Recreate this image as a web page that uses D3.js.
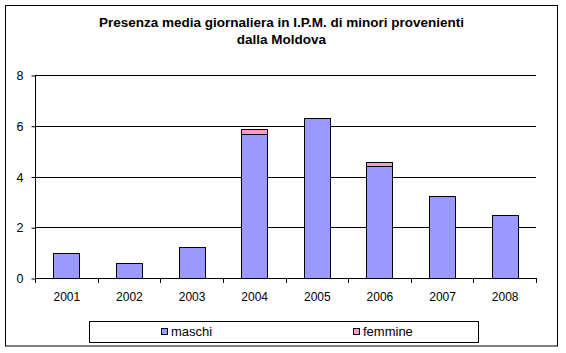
<!DOCTYPE html>
<html><head><meta charset="utf-8">
<script src="https://cdn.jsdelivr.net/npm/d3@7/dist/d3.min.js"></script>
<style>body{margin:0;background:#fff}svg{display:block}text{font-family:"Liberation Sans",Arial,sans-serif}</style>
</head><body>
<script>
const years = ["2001","2002","2003","2004","2005","2006","2007","2008"];
const maschi = [0.97, 0.58, 1.21, 5.66, 6.29, 4.41, 3.23, 2.48];
const femmine = [0, 0, 0, 0.2, 0, 0.15, 0, 0];
const yTicks = [0, 2, 4, 6, 8];
const seriesNames = ["maschi", "femmine"];
const colors = ["#9999FF", "#FF99CC"];
const titleLines = ["Presenza media giornaliera in I.P.M. di minori provenienti", "dalla Moldova"];

const W = 566, H = 353;
const svg = d3.select("body").append("svg").attr("width", W).attr("height", H);
svg.append("rect").attr("x", 5.5).attr("y", 5.5).attr("width", 552).attr("height", 340.5)
  .attr("fill", "#fff").attr("stroke", "#000").attr("stroke-width", 1);

const t = svg.append("text").attr("text-anchor", "middle").attr("font-weight", "bold").attr("font-size", 13.5);
titleLines.forEach((l, i) => t.append("tspan").attr("x", 281.5).attr("y", 27 + i * 17).text(l));

const x0 = 35, x1 = 536, yTop = 75, yBot = 278;
const x = d3.scaleBand().domain(years).range([x0, x1]).paddingInner(0.585).paddingOuter(0.29);
const xt = d3.scaleBand().domain(years).range([x0, x1]);
const y = d3.scaleLinear().domain([0, 8]).range([yBot, yTop]);

// gridlines
svg.append("g").selectAll("line").data(yTicks.filter(d => d > 0)).join("line")
  .attr("x1", x0).attr("x2", x1).attr("y1", d => Math.round(y(d)) + 0.5).attr("y2", d => Math.round(y(d)) + 0.5)
  .attr("stroke", "#000");

// stacked bars
const data = years.map((yr, i) => ({ yr, m: maschi[i], f: femmine[i] }));
const stack = d3.stack().keys(["m", "f"])(data);
stack.forEach((s, si) => {
  svg.append("g").selectAll("rect").data(s.filter(d => d[1] - d[0] > 0)).join("rect")
    .attr("x", d => Math.round(x(d.data.yr)) + 0.5)
    .attr("width", Math.round(x.bandwidth()))
    .attr("y", d => Math.round(y(d[1])) + 0.5)
    .attr("height", d => Math.round(y(d[0])) - Math.round(y(d[1])))
    .attr("fill", colors[si]).attr("stroke", "#000").attr("stroke-width", 1);
});

// y axis
const ya = svg.append("g").attr("transform", `translate(${x0 + 0.5},0.5)`)
  .call(d3.axisLeft(y).tickValues(yTicks).tickSize(4).tickPadding(8).tickFormat(d3.format("d")));
ya.select(".domain").attr("d", `M0,${yTop}V${yBot}`);
ya.selectAll("text").attr("font-size", 12.5).attr("font-family", "Liberation Sans, Arial, sans-serif").attr("fill", "#000");
ya.selectAll("line").attr("stroke", "#000");

// x axis
const xa = svg.append("g").attr("transform", `translate(0.5,${yBot + 0.5})`)
  .call(d3.axisBottom(xt).tickSize(0).tickPadding(14));
xa.select(".domain").attr("d", `M${x0},0H${x1}`).attr("stroke", "#000");
xa.selectAll("text").attr("font-size", 12).attr("font-family", "Liberation Sans, Arial, sans-serif").attr("fill", "#000");
svg.append("g").selectAll("line").data(d3.range(years.length + 1)).join("line")
  .attr("x1", i => Math.round(x0 + i * xt.step()) + 0.5).attr("x2", i => Math.round(x0 + i * xt.step()) + 0.5)
  .attr("y1", yBot).attr("y2", yBot + 5).attr("stroke", "#000");

// legend
svg.append("rect").attr("x", 89.5).attr("y", 321.5).attr("width", 389).attr("height", 21)
  .attr("fill", "#fff").attr("stroke", "#000");
const legX = [161, 353];
seriesNames.forEach((n, i) => {
  svg.append("rect").attr("x", legX[i] + 0.5).attr("y", 328.5).attr("width", 6).attr("height", 6)
    .attr("fill", colors[i]).attr("stroke", "#000");
  svg.append("text").attr("x", legX[i] + 10).attr("y", 336).attr("font-size", 13).text(n);
});
</script>
</body></html>
